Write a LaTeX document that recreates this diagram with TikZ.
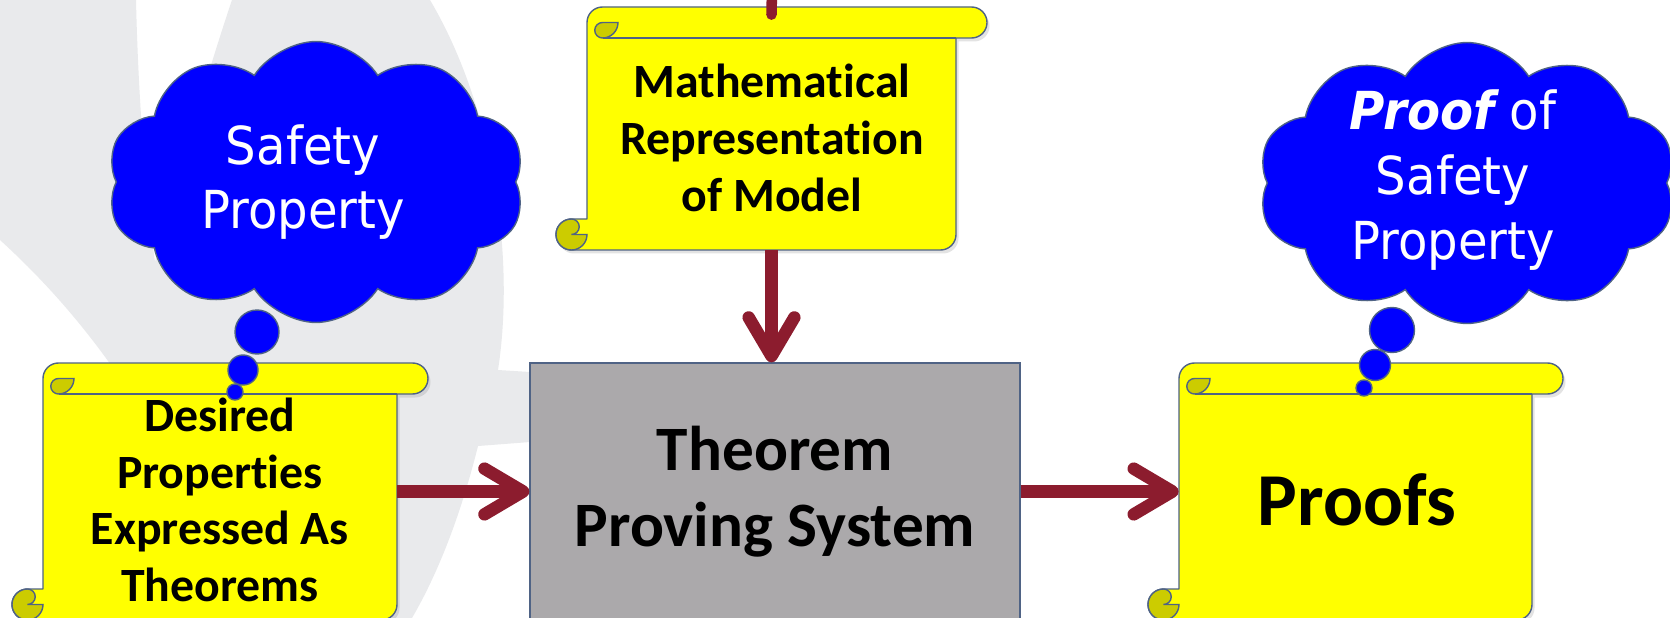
\documentclass[tikz,border=0pt]{standalone}
\usepackage{fontspec}
\setmainfont{Carlito}[Ligatures=NoCommon]
\newfontfamily\cloudfont[FakeStretch=0.92]{DejaVu Sans}
\usetikzlibrary{positioning,arrows.meta,shapes.symbols,shadows}
\definecolor{scrollyel}{HTML}{FFFF00}
\definecolor{curlyel}{HTML}{CCCC00}
\definecolor{edgeblue}{HTML}{4F6385}
\definecolor{cloudblue}{HTML}{0000FF}
\definecolor{boxgray}{HTML}{ABA9AB}
\definecolor{maroon}{HTML}{8C1C2E}
\definecolor{wmark}{HTML}{E9EAEC}
\tikzset{
  scrollbox/.style={fill=scrollyel, draw=edgeblue, line width=0.8pt, line join=round,
    drop shadow={opacity=0.22, shadow xshift=0.05cm, shadow yshift=-0.07cm}},
  curl/.style={fill=curlyel, draw=edgeblue, line width=0.8pt},
  sheet/.style={rectangle, inner sep=0pt},
  scrolltxt/.style={font=\bfseries\fontsize{27.2}{32.3}\selectfont, align=center, text=black},
  engine/.style={rectangle, fill=boxgray, draw=edgeblue, line width=0.8pt, minimum width=9.8cm, minimum height=5.14cm, font=\bfseries\fontsize{36}{43.6}\selectfont, align=center},
  thought/.style={cloud, cloud puffs=10, cloud puff arc=115, aspect=1.5, fill=cloudblue, draw=edgeblue, line width=0.8pt, minimum width=8.36cm, minimum height=5.62cm},
  cloudtxt/.style={text=white, font=\cloudfont\fontsize{29.8}{36.8}\selectfont, align=center},
  bubble/.style={circle, fill=cloudblue, draw=edgeblue, line width=0.8pt, inner sep=0pt},
  flow/.style={-{Straight Barb[round, length=22pt, width=26pt]}, maroon, line width=7.1pt},
  feedline/.style={maroon, line width=6pt, line cap=round},
}
% scroll: name, left, top, right, bottom (pixels, roll height 31)
\newcommand{\drawscroll}[5]{%
  \pgfmathsetmacro{\sxa}{#2+15.5}%
  \pgfmathsetmacro{\sxb}{#2+31}%
  \pgfmathsetmacro{\sxc}{#2+46.5}%
  \pgfmathsetmacro{\sxd}{#2+62}%
  \pgfmathsetmacro{\sxe}{#4-31}%
  \pgfmathsetmacro{\sxf}{#4-15.5}%
  \pgfmathsetmacro{\sya}{#3+15.5}%
  \pgfmathsetmacro{\syb}{#3+31}%
  \pgfmathsetmacro{\syc}{#5-31}%
  \pgfmathsetmacro{\syd}{#5-15.5}%
  \pgfmathsetmacro{\sw}{(#4-#2-62)*0.02}%
  \pgfmathsetmacro{\sh}{(#5-#3)*0.02}%
  \path[scrollbox] (\sxb,\syc) -- (\sxb,\sya) arc[start angle=180, end angle=270, radius=15.5]
    -- (\sxf,#3) arc[start angle=270, end angle=450, radius=15.5] -- (\sxe,\syb)
    -- (\sxe,\syd) arc[start angle=0, end angle=90, radius=15.5] -- (\sxa,#5)
    arc[start angle=90, end angle=270, radius=15.5] -- cycle;
  \draw[edgeblue, line width=0.8pt] (\sxc,\syb) -- (\sxe,\syb);
  \path[curl] (\sxd,\sya) arc[start angle=0, end angle=90, radius=15.5]
    arc[start angle=90, end angle=270, radius=7.75] -- cycle;
  \path[curl] (\sxb,\syd) arc[start angle=0, end angle=270, radius=15.5]
    arc[start angle=270, end angle=450, radius=7.75] -- cycle;
  \node[sheet, minimum width=\sw cm, minimum height=\sh cm] (#1) at ({(\sxb+\sxe)/2},{(#3+#5)/2}) {};
}
\begin{document}
\begin{tikzpicture}[x=0.02cm, y=-0.02cm]
\useasboundingbox (0,0) rectangle (1670,618);
\clip (0,0) rectangle (1670,618);
\fill[white] (0,0) rectangle (1670,618);
% watermark
\fill[wmark] (0,0) -- (136,0) .. controls (138,90) and (145,190) .. (155,262)
  .. controls (180,170) and (205,80) .. (232,0) -- (430,0)
  .. controls (495,110) and (515,260) .. (498,370) -- (530,372) -- (530,442) -- (478,446)
  .. controls (462,510) and (440,570) .. (412,618) -- (230,618)
  .. controls (190,470) and (110,340) .. (0,240) -- cycle;

% scrolls
\drawscroll{desired}{12}{363}{428}{620}
\drawscroll{mathrep}{556}{7}{987}{250}
\drawscroll{proofs}{1148}{363}{1563}{620}
\node[scrolltxt] (desiredtxt) at (220,500) {Desired\\Properties\\Expressed As\\Theorems};
\node[scrolltxt] (mathtxt) at (772,138) {Mathematical\\Representation\\of Model};
\node[scrolltxt, font=\bfseries\fontsize{42.5}{50}\selectfont] (proofstxt) at (1357,500) {Proofs};

% prover
\node[engine] (engine) at (775,491.5) {Theorem\\Proving System};

% clouds
\node[thought] (safety) at (316,182) {};
\node[cloudtxt] (safetytxt) at (303,182) {Safety\\Property};
\node[bubble, minimum size=0.88cm] (sb1) at (257,332) {};
\node[bubble, minimum size=0.6cm] (sb2) at (243,370) {};
\node[bubble, minimum size=0.32cm] (sb3) at (235,392) {};
\node[thought] (proofcloud) at (1467,183) {};
\node[cloudtxt] (prooftxt) at (1453,180) {{\bfseries\itshape Proof} of\\Safety\\Property};
\node[bubble, minimum size=0.9cm] (pb1) at (1392,330) {};
\node[bubble, minimum size=0.62cm] (pb2) at (1375,365) {};
\node[bubble, minimum size=0.32cm] (pb3) at (1364,388) {};

% arrows
\coordinate (feed) at (772,-10);
\draw[feedline] (feed) -- ([yshift=-0.16cm]mathrep.north);
\draw[flow] (mathrep.south) -- (mathrep.south |- engine.north);
\draw[flow] (desired.east) -- (engine.west);
\draw[flow] (engine.east) -- (proofs.west);
\end{tikzpicture}
\end{document}
